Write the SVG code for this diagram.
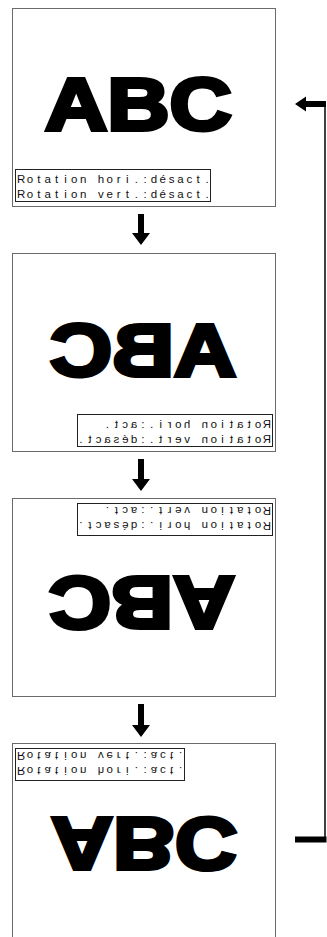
<svg xmlns="http://www.w3.org/2000/svg" xmlns:xlink="http://www.w3.org/1999/xlink" width="327" height="937" viewBox="0 0 327 937">
<style>
.panel{fill:#fff;stroke:#6a6a6a;stroke-width:1}
.box{fill:#fff;stroke:#222;stroke-width:1}
.lbl{font-family:"Liberation Sans",Arial,sans-serif;font-size:11.5px;fill:#111;text-anchor:middle}
.big{font-family:"Liberation Sans",Arial,sans-serif;font-weight:bold;font-size:75px;fill:#000;stroke:#000;stroke-width:4;stroke-linejoin:miter;stroke-miterlimit:3}
.arr{fill:#000;stroke:none}
.line{fill:none;stroke:#000;stroke-width:1.5}
</style>
<defs>
<text id="abc" class="big" x="0" y="0">ABC</text>
</defs>
<rect width="327" height="937" fill="#fff"/>

<g id="panel1">
<rect class="panel" x="12.5" y="8.5" width="263" height="198"/>
<use xlink:href="#abc" transform="translate(45,130) scale(1.15,1)"/>
<g>
<rect class="box" x="15.5" y="169.5" width="195" height="32"/>
<text class="lbl" y="183" x="21.2 30.05 38.9 47.75 56.6 65.45 74.3 83.15 92 100.85 109.7 118.55 127.4 136.25 145.1 153.95 162.8 171.65 180.5 189.35 198.2 207.05">Rotation hori.:désact.</text>
<text class="lbl" y="198" x="21.2 30.05 38.9 47.75 56.6 65.45 74.3 83.15 92 100.85 109.7 118.55 127.4 136.25 145.1 153.95 162.8 171.65 180.5 189.35 198.2 207.05">Rotation vert.:désact.</text>
</g>
</g>

<g id="panel2">
<rect class="panel" x="12.5" y="253.5" width="263" height="198"/>
<use xlink:href="#abc" transform="translate(236,376) scale(-1.145,1)"/>
<g transform="translate(288,245) scale(-1,1)">
<rect class="box" x="15.5" y="169.5" width="195" height="32"/>
<text class="lbl" y="183" x="21.2 30.05 38.9 47.75 56.6 65.45 74.3 83.15 92 100.85 109.7 118.55 127.4 136.25 145.1 153.95 162.8 171.65 180.5">Rotation hori.:act.</text>
<text class="lbl" y="198" x="21.2 30.05 38.9 47.75 56.6 65.45 74.3 83.15 92 100.85 109.7 118.55 127.4 136.25 145.1 153.95 162.8 171.65 180.5 189.35 198.2 207.05">Rotation vert.:désact.</text>
</g>
</g>

<g id="panel3">
<rect class="panel" x="12.5" y="498.5" width="263" height="198"/>
<use xlink:href="#abc" transform="translate(235,577) scale(-1.145,-1)"/>
<g transform="translate(288,705) scale(-1,-1)">
<rect class="box" x="15.5" y="169.5" width="195" height="32"/>
<text class="lbl" y="183" x="21.2 30.05 38.9 47.75 56.6 65.45 74.3 83.15 92 100.85 109.7 118.55 127.4 136.25 145.1 153.95 162.8 171.65 180.5 189.35 198.2 207.05">Rotation hori.:désact.</text>
<text class="lbl" y="198" x="21.2 30.05 38.9 47.75 56.6 65.45 74.3 83.15 92 100.85 109.7 118.55 127.4 136.25 145.1 153.95 162.8 171.65 180.5">Rotation vert.:act.</text>
</g>
</g>

<g id="panel4">
<rect class="panel" x="12.5" y="743.5" width="263" height="220"/>
<use xlink:href="#abc" transform="translate(51,818) scale(1.145,-1)"/>
<g transform="translate(0,950) scale(1,-1)">
<rect class="box" x="15.5" y="169.5" width="169" height="32"/>
<text class="lbl" y="183" x="21.2 30.05 38.9 47.75 56.6 65.45 74.3 83.15 92 100.85 109.7 118.55 127.4 136.25 145.1 153.95 162.8 171.65 180.5">Rotation hori.:act.</text>
<text class="lbl" y="198" x="21.2 30.05 38.9 47.75 56.6 65.45 74.3 83.15 92 100.85 109.7 118.55 127.4 136.25 145.1 153.95 162.8 171.65 180.5">Rotation vert.:act.</text>
</g>
</g>

<g id="connectors">
<polygon class="arr" points="138,214 144,214 144,233 150,233 141,245 132,233 138,233"/>
<polygon class="arr" points="138,459 144,459 144,479 150,479 141,491 132,479 138,479"/>
<polygon class="arr" points="138,704 144,704 144,725 150,725 141,737 132,725 138,725"/>
<line class="line" x1="325" y1="104" x2="325" y2="840"/>
<polygon class="arr" points="326,101 306,101 306,96.5 295,104 306,111.5 306,107 326,107"/>
<rect class="arr" x="295" y="836.5" width="31.5" height="6"/>
</g>
</svg>
